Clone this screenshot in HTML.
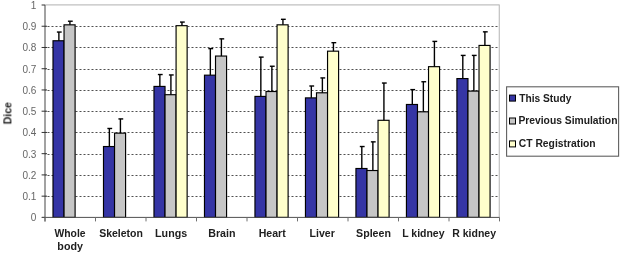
<!DOCTYPE html><html><head><meta charset="utf-8"><style>
html,body{margin:0;padding:0;background:#fff;overflow:hidden;}
svg{display:block;font-family:"Liberation Sans",sans-serif;filter:blur(0.4px);}
</style></head><body>
<svg width="620" height="253" viewBox="0 0 620 253">
<rect x="0" y="0" width="620" height="253" fill="#fff"/>
<line x1="45.0" y1="196.5" x2="499.5" y2="196.5" stroke="#505050" stroke-width="1" stroke-dasharray="2 2" stroke-dashoffset="1.5"/>
<line x1="45.0" y1="175.5" x2="499.5" y2="175.5" stroke="#505050" stroke-width="1" stroke-dasharray="2 2" stroke-dashoffset="1.5"/>
<line x1="45.0" y1="154.5" x2="499.5" y2="154.5" stroke="#505050" stroke-width="1" stroke-dasharray="2 2" stroke-dashoffset="1.5"/>
<line x1="45.0" y1="132.5" x2="499.5" y2="132.5" stroke="#505050" stroke-width="1" stroke-dasharray="2 2" stroke-dashoffset="1.5"/>
<line x1="45.0" y1="111.5" x2="499.5" y2="111.5" stroke="#505050" stroke-width="1" stroke-dasharray="2 2" stroke-dashoffset="1.5"/>
<line x1="45.0" y1="90.5" x2="499.5" y2="90.5" stroke="#505050" stroke-width="1" stroke-dasharray="2 2" stroke-dashoffset="1.5"/>
<line x1="45.0" y1="69.5" x2="499.5" y2="69.5" stroke="#505050" stroke-width="1" stroke-dasharray="2 2" stroke-dashoffset="1.5"/>
<line x1="45.0" y1="47.5" x2="499.5" y2="47.5" stroke="#505050" stroke-width="1" stroke-dasharray="2 2" stroke-dashoffset="1.5"/>
<line x1="45.0" y1="26.5" x2="499.5" y2="26.5" stroke="#505050" stroke-width="1" stroke-dasharray="2 2" stroke-dashoffset="1.5"/>
<line x1="45.0" y1="4.8" x2="499.5" y2="4.8" stroke="#c0c0c0" stroke-width="1.2"/>
<line x1="499.3" y1="4.8" x2="499.3" y2="217.4" stroke="#c0c0c0" stroke-width="1.2"/>
<rect x="53.00" y="40.76" width="11.05" height="176.64" fill="#3535a5" stroke="#000" stroke-width="1.15"/>
<line x1="58.88" y1="40.76" x2="58.88" y2="32.05" stroke="#000" stroke-width="1.4"/>
<line x1="56.88" y1="32.05" x2="61.67" y2="32.05" stroke="#000" stroke-width="1.4"/>
<rect x="64.05" y="24.83" width="11.05" height="192.57" fill="#c6c6c6" stroke="#000" stroke-width="1.15"/>
<line x1="69.92" y1="24.83" x2="69.92" y2="21.22" stroke="#000" stroke-width="1.4"/>
<line x1="67.92" y1="21.22" x2="72.72" y2="21.22" stroke="#000" stroke-width="1.4"/>
<rect x="103.49" y="146.53" width="11.05" height="70.87" fill="#3535a5" stroke="#000" stroke-width="1.15"/>
<line x1="109.37" y1="146.53" x2="109.37" y2="128.48" stroke="#000" stroke-width="1.4"/>
<line x1="107.37" y1="128.48" x2="112.17" y2="128.48" stroke="#000" stroke-width="1.4"/>
<rect x="114.54" y="133.15" width="11.05" height="84.25" fill="#c6c6c6" stroke="#000" stroke-width="1.15"/>
<line x1="120.42" y1="133.15" x2="120.42" y2="118.92" stroke="#000" stroke-width="1.4"/>
<line x1="118.42" y1="118.92" x2="123.22" y2="118.92" stroke="#000" stroke-width="1.4"/>
<rect x="153.98" y="86.42" width="11.05" height="130.98" fill="#3535a5" stroke="#000" stroke-width="1.15"/>
<line x1="159.86" y1="86.42" x2="159.86" y2="74.53" stroke="#000" stroke-width="1.4"/>
<line x1="157.86" y1="74.53" x2="162.66" y2="74.53" stroke="#000" stroke-width="1.4"/>
<rect x="165.03" y="94.71" width="11.05" height="122.69" fill="#c6c6c6" stroke="#000" stroke-width="1.15"/>
<line x1="170.91" y1="94.71" x2="170.91" y2="74.95" stroke="#000" stroke-width="1.4"/>
<line x1="168.91" y1="74.95" x2="173.71" y2="74.95" stroke="#000" stroke-width="1.4"/>
<rect x="176.08" y="25.68" width="11.05" height="191.72" fill="#ffffcc" stroke="#000" stroke-width="1.15"/>
<line x1="181.96" y1="25.68" x2="181.96" y2="22.07" stroke="#000" stroke-width="1.4"/>
<line x1="179.96" y1="22.07" x2="184.76" y2="22.07" stroke="#000" stroke-width="1.4"/>
<rect x="204.47" y="75.17" width="11.05" height="142.23" fill="#3535a5" stroke="#000" stroke-width="1.15"/>
<line x1="210.34" y1="75.17" x2="210.34" y2="48.62" stroke="#000" stroke-width="1.4"/>
<line x1="208.34" y1="48.62" x2="213.15" y2="48.62" stroke="#000" stroke-width="1.4"/>
<rect x="215.52" y="56.05" width="11.05" height="161.35" fill="#c6c6c6" stroke="#000" stroke-width="1.15"/>
<line x1="221.40" y1="56.05" x2="221.40" y2="38.85" stroke="#000" stroke-width="1.4"/>
<line x1="219.40" y1="38.85" x2="224.20" y2="38.85" stroke="#000" stroke-width="1.4"/>
<rect x="254.96" y="96.41" width="11.05" height="120.99" fill="#3535a5" stroke="#000" stroke-width="1.15"/>
<line x1="260.84" y1="96.41" x2="260.84" y2="57.11" stroke="#000" stroke-width="1.4"/>
<line x1="258.84" y1="57.11" x2="263.64" y2="57.11" stroke="#000" stroke-width="1.4"/>
<rect x="266.01" y="91.52" width="11.05" height="125.88" fill="#c6c6c6" stroke="#000" stroke-width="1.15"/>
<line x1="271.88" y1="91.52" x2="271.88" y2="66.25" stroke="#000" stroke-width="1.4"/>
<line x1="269.88" y1="66.25" x2="274.69" y2="66.25" stroke="#000" stroke-width="1.4"/>
<rect x="277.06" y="24.83" width="11.05" height="192.57" fill="#ffffcc" stroke="#000" stroke-width="1.15"/>
<line x1="282.94" y1="24.83" x2="282.94" y2="19.31" stroke="#000" stroke-width="1.4"/>
<line x1="280.94" y1="19.31" x2="285.74" y2="19.31" stroke="#000" stroke-width="1.4"/>
<rect x="305.45" y="97.89" width="11.05" height="119.51" fill="#3535a5" stroke="#000" stroke-width="1.15"/>
<line x1="311.33" y1="97.89" x2="311.33" y2="86.00" stroke="#000" stroke-width="1.4"/>
<line x1="309.33" y1="86.00" x2="314.13" y2="86.00" stroke="#000" stroke-width="1.4"/>
<rect x="316.50" y="92.80" width="11.05" height="124.60" fill="#c6c6c6" stroke="#000" stroke-width="1.15"/>
<line x1="322.38" y1="92.80" x2="322.38" y2="77.93" stroke="#000" stroke-width="1.4"/>
<line x1="320.38" y1="77.93" x2="325.18" y2="77.93" stroke="#000" stroke-width="1.4"/>
<rect x="327.55" y="51.17" width="11.05" height="166.23" fill="#ffffcc" stroke="#000" stroke-width="1.15"/>
<line x1="333.43" y1="51.17" x2="333.43" y2="42.67" stroke="#000" stroke-width="1.4"/>
<line x1="331.43" y1="42.67" x2="336.23" y2="42.67" stroke="#000" stroke-width="1.4"/>
<rect x="355.94" y="168.50" width="11.05" height="48.90" fill="#3535a5" stroke="#000" stroke-width="1.15"/>
<line x1="361.81" y1="168.50" x2="361.81" y2="146.53" stroke="#000" stroke-width="1.4"/>
<line x1="359.81" y1="146.53" x2="364.62" y2="146.53" stroke="#000" stroke-width="1.4"/>
<rect x="366.99" y="170.53" width="11.05" height="46.87" fill="#c6c6c6" stroke="#000" stroke-width="1.15"/>
<line x1="372.87" y1="170.53" x2="372.87" y2="141.86" stroke="#000" stroke-width="1.4"/>
<line x1="370.87" y1="141.86" x2="375.67" y2="141.86" stroke="#000" stroke-width="1.4"/>
<rect x="378.04" y="120.30" width="11.05" height="97.10" fill="#ffffcc" stroke="#000" stroke-width="1.15"/>
<line x1="383.92" y1="120.30" x2="383.92" y2="83.03" stroke="#000" stroke-width="1.4"/>
<line x1="381.92" y1="83.03" x2="386.72" y2="83.03" stroke="#000" stroke-width="1.4"/>
<rect x="406.43" y="104.48" width="11.05" height="112.92" fill="#3535a5" stroke="#000" stroke-width="1.15"/>
<line x1="412.31" y1="104.48" x2="412.31" y2="89.61" stroke="#000" stroke-width="1.4"/>
<line x1="410.31" y1="89.61" x2="415.11" y2="89.61" stroke="#000" stroke-width="1.4"/>
<rect x="417.48" y="111.81" width="11.05" height="105.59" fill="#c6c6c6" stroke="#000" stroke-width="1.15"/>
<line x1="423.36" y1="111.81" x2="423.36" y2="81.75" stroke="#000" stroke-width="1.4"/>
<line x1="421.36" y1="81.75" x2="426.16" y2="81.75" stroke="#000" stroke-width="1.4"/>
<rect x="428.53" y="66.67" width="11.05" height="150.73" fill="#ffffcc" stroke="#000" stroke-width="1.15"/>
<line x1="434.41" y1="66.67" x2="434.41" y2="41.40" stroke="#000" stroke-width="1.4"/>
<line x1="432.41" y1="41.40" x2="437.21" y2="41.40" stroke="#000" stroke-width="1.4"/>
<rect x="456.92" y="78.57" width="11.05" height="138.83" fill="#3535a5" stroke="#000" stroke-width="1.15"/>
<line x1="462.80" y1="78.57" x2="462.80" y2="55.41" stroke="#000" stroke-width="1.4"/>
<line x1="460.80" y1="55.41" x2="465.60" y2="55.41" stroke="#000" stroke-width="1.4"/>
<rect x="467.97" y="91.10" width="11.05" height="126.30" fill="#c6c6c6" stroke="#000" stroke-width="1.15"/>
<line x1="473.85" y1="91.10" x2="473.85" y2="55.41" stroke="#000" stroke-width="1.4"/>
<line x1="471.85" y1="55.41" x2="476.65" y2="55.41" stroke="#000" stroke-width="1.4"/>
<rect x="479.02" y="45.43" width="11.05" height="171.97" fill="#ffffcc" stroke="#000" stroke-width="1.15"/>
<line x1="484.90" y1="45.43" x2="484.90" y2="31.84" stroke="#000" stroke-width="1.4"/>
<line x1="482.90" y1="31.84" x2="487.70" y2="31.84" stroke="#000" stroke-width="1.4"/>
<line x1="45.0" y1="5.0" x2="45.0" y2="221.4" stroke="#707070" stroke-width="1.3"/>
<line x1="41.6" y1="217.40" x2="45.0" y2="217.40" stroke="#303030" stroke-width="1"/>
<text x="36.3" y="221.40" text-anchor="end" font-size="10" fill="#666666">0</text>
<line x1="41.6" y1="196.16" x2="47.0" y2="196.16" stroke="#303030" stroke-width="1"/>
<text x="36.3" y="200.16" text-anchor="end" font-size="10" fill="#666666">0.1</text>
<line x1="41.6" y1="174.92" x2="47.0" y2="174.92" stroke="#303030" stroke-width="1"/>
<text x="36.3" y="178.92" text-anchor="end" font-size="10" fill="#666666">0.2</text>
<line x1="41.6" y1="153.68" x2="47.0" y2="153.68" stroke="#303030" stroke-width="1"/>
<text x="36.3" y="157.68" text-anchor="end" font-size="10" fill="#666666">0.3</text>
<line x1="41.6" y1="132.44" x2="47.0" y2="132.44" stroke="#303030" stroke-width="1"/>
<text x="36.3" y="136.44" text-anchor="end" font-size="10" fill="#666666">0.4</text>
<line x1="41.6" y1="111.20" x2="47.0" y2="111.20" stroke="#303030" stroke-width="1"/>
<text x="36.3" y="115.20" text-anchor="end" font-size="10" fill="#666666">0.5</text>
<line x1="41.6" y1="89.96" x2="47.0" y2="89.96" stroke="#303030" stroke-width="1"/>
<text x="36.3" y="93.96" text-anchor="end" font-size="10" fill="#666666">0.6</text>
<line x1="41.6" y1="68.72" x2="47.0" y2="68.72" stroke="#303030" stroke-width="1"/>
<text x="36.3" y="72.72" text-anchor="end" font-size="10" fill="#666666">0.7</text>
<line x1="41.6" y1="47.48" x2="47.0" y2="47.48" stroke="#303030" stroke-width="1"/>
<text x="36.3" y="51.48" text-anchor="end" font-size="10" fill="#666666">0.8</text>
<line x1="41.6" y1="26.24" x2="47.0" y2="26.24" stroke="#303030" stroke-width="1"/>
<text x="36.3" y="30.24" text-anchor="end" font-size="10" fill="#666666">0.9</text>
<line x1="41.6" y1="5.00" x2="45.0" y2="5.00" stroke="#303030" stroke-width="1"/>
<text x="36.3" y="9.00" text-anchor="end" font-size="10" fill="#666666">1</text>
<line x1="42.0" y1="217.4" x2="499.5" y2="217.4" stroke="#505050" stroke-width="1"/>
<line x1="45.00" y1="217.4" x2="45.00" y2="221.4" stroke="#707070" stroke-width="1"/>
<line x1="95.50" y1="217.4" x2="95.50" y2="221.4" stroke="#707070" stroke-width="1"/>
<line x1="146.00" y1="217.4" x2="146.00" y2="221.4" stroke="#707070" stroke-width="1"/>
<line x1="196.50" y1="217.4" x2="196.50" y2="221.4" stroke="#707070" stroke-width="1"/>
<line x1="247.00" y1="217.4" x2="247.00" y2="221.4" stroke="#707070" stroke-width="1"/>
<line x1="297.50" y1="217.4" x2="297.50" y2="221.4" stroke="#707070" stroke-width="1"/>
<line x1="348.00" y1="217.4" x2="348.00" y2="221.4" stroke="#707070" stroke-width="1"/>
<line x1="398.50" y1="217.4" x2="398.50" y2="221.4" stroke="#707070" stroke-width="1"/>
<line x1="449.00" y1="217.4" x2="449.00" y2="221.4" stroke="#707070" stroke-width="1"/>
<line x1="499.50" y1="217.4" x2="499.50" y2="221.4" stroke="#707070" stroke-width="1"/>
<text transform="translate(11.4,113.3) rotate(-90)" text-anchor="middle" font-size="10.5" font-weight="bold" fill="#202020" style="filter:blur(0.3px)">Dice</text>
<rect x="506.6" y="86.8" width="112" height="69.4" fill="#fff" stroke="#606060" stroke-width="1.1"/>
<rect x="509.5" y="95.10" width="6" height="6" fill="#3535a5" stroke="#000" stroke-width="1"/>
<rect x="509.5" y="118.00" width="6" height="6" fill="#c6c6c6" stroke="#000" stroke-width="1"/>
<rect x="509.5" y="140.90" width="6" height="6" fill="#ffffcc" stroke="#000" stroke-width="1"/>
<g style="filter:blur(0.3px)">
<text x="54.49" y="236.6" font-size="10" font-weight="bold" fill="#202020" textLength="31.06" lengthAdjust="spacingAndGlyphs">Whole</text>
<text x="57.39" y="250.0" font-size="10" font-weight="bold" fill="#202020" textLength="25.56" lengthAdjust="spacingAndGlyphs">body</text>
<text x="99.20" y="236.7" font-size="10" font-weight="bold" fill="#202020" textLength="43.75" lengthAdjust="spacingAndGlyphs">Skeleton</text>
<text x="155.09" y="236.7" font-size="10" font-weight="bold" fill="#202020" textLength="32.05" lengthAdjust="spacingAndGlyphs">Lungs</text>
<text x="208.19" y="236.7" font-size="10" font-weight="bold" fill="#202020" textLength="27.28" lengthAdjust="spacingAndGlyphs">Brain</text>
<text x="258.69" y="236.7" font-size="10" font-weight="bold" fill="#202020" textLength="27.04" lengthAdjust="spacingAndGlyphs">Heart</text>
<text x="309.60" y="236.7" font-size="10" font-weight="bold" fill="#202020" textLength="25.16" lengthAdjust="spacingAndGlyphs">Liver</text>
<text x="356.09" y="236.7" font-size="10" font-weight="bold" fill="#202020" textLength="34.87" lengthAdjust="spacingAndGlyphs">Spleen</text>
<text x="402.20" y="236.7" font-size="10" font-weight="bold" fill="#202020" textLength="42.35" lengthAdjust="spacingAndGlyphs">L kidney</text>
<text x="452.20" y="236.7" font-size="10" font-weight="bold" fill="#202020" textLength="43.86" lengthAdjust="spacingAndGlyphs">R kidney</text>
<text x="519.19" y="101.6" font-size="10" font-weight="bold" fill="#202020" textLength="52.17" lengthAdjust="spacingAndGlyphs">This Study</text>
<text x="518.41" y="124.4" font-size="10" font-weight="bold" fill="#202020" textLength="99.03" lengthAdjust="spacingAndGlyphs">Previous Simulation</text>
<text x="518.78" y="147.3" font-size="10" font-weight="bold" fill="#202020" textLength="76.86" lengthAdjust="spacingAndGlyphs">CT Registration</text>
</g>
</svg></body></html>
